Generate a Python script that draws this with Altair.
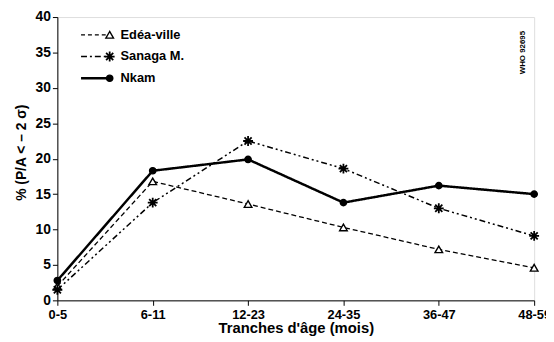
import altair as alt
import pandas as pd

ages = ["0-5", "6-11", "12-23", "24-35", "36-47", "48-59"]
edea = [2.0, 16.8, 13.6, 10.3, 7.2, 4.6]
sanaga = [1.5, 13.8, 22.5, 18.6, 13.0, 9.1]
nkam = [2.8, 18.3, 19.9, 13.8, 16.2, 15.0]
series = ["Edéa-ville", "Sanaga M.", "Nkam"]

rows = []
for name, vals in zip(series, [edea, sanaga, nkam]):
    for a, v in zip(ages, vals):
        rows.append({"age": a, "pct": v, "serie": name})
df = pd.DataFrame(rows)

FONT = "Liberation Sans"
ASTER = "M0,-1L0,1M-1,0L1,0M-0.72,-0.72L0.72,0.72M-0.72,0.72L0.72,-0.72"

x = alt.X("age:N", sort=ages, scale=alt.Scale(type="point", padding=0),
          axis=alt.Axis(title="Tranches d'âge (mois)", labelAngle=0, labelFontSize=13,
                        labelFontWeight="bold", titleFontSize=15, titleFontWeight="bold",
                        tickSize=5, tickColor="black", domainColor="black", labelColor="black",
                        titleColor="black", labelPadding=3, titlePadding=0, labelFont=FONT, titleFont=FONT,
                        labelOverlap=False, labelFlush=False))
y = alt.Y("pct:Q", scale=alt.Scale(domain=[0, 40], nice=False),
          axis=alt.Axis(title="% (P/A < – 2 σ)", values=[0, 5, 10, 15, 20, 25, 30, 35, 40],
                        grid=False, labelFontSize=14, labelFontWeight="bold",
                        titleFontSize=14, titleFontWeight="bold", tickSize=5,
                        tickColor="black", domainColor="black", labelColor="black",
                        titleColor="black", titlePadding=7, titleY=137, labelFont=FONT, titleFont=FONT))

dashes_line = [[5, 3], [6, 3, 2, 3, 2, 3], [1, 0]]
widths = [1.3, 1.5, 2.5]
shapes = ["triangle-up", ASTER, "circle"]
fills = ["white", "white", "black"]
sizes = [60, 100, 40]
pstroke = [1.4, 1.8, 1.5]

layers = []
for i, name in enumerate(series):
    base = alt.Chart(df).transform_filter(alt.datum.serie == name)
    layers.append(base.mark_line(color="black", strokeDash=dashes_line[i], strokeWidth=widths[i]).encode(x=x, y=y))
for i, name in enumerate(series):
    base = alt.Chart(df).transform_filter(alt.datum.serie == name)
    layers.append(base.mark_point(shape=shapes[i], fill=fills[i], filled=(i != 1), stroke="black",
                                  strokeWidth=pstroke[i], size=sizes[i], opacity=1).encode(x=x, y=y))

# manual legend
leg_y = [18, 40, 62]
dashes = [[4, 3], [6, 3, 2, 3], [1, 0]]
for i, name in enumerate(series):
    d = pd.DataFrame({"serie": [name]})
    layers.append(alt.Chart(d).mark_rule(color="black", strokeDash=dashes[i], strokeWidth=widths[i]).encode(
        x=alt.value(24), x2=alt.value(50), y=alt.value(leg_y[i])))
    layers.append(alt.Chart(d).mark_point(shape=shapes[i], fill=fills[i], filled=(i != 1), stroke="black",
                                          strokeWidth=pstroke[i], size=sizes[i], opacity=1).encode(
        x=alt.value(53), y=alt.value(leg_y[i])))
    layers.append(alt.Chart(d).mark_text(align="left", baseline="middle", fontSize=13, fontWeight="bold",
                                         font=FONT, color="black").encode(
        x=alt.value(64), y=alt.value(leg_y[i]), text="serie:N"))

who = alt.Chart(pd.DataFrame({"t": ["WHO 92695"]})).mark_text(
    angle=270, fontSize=8, fontWeight="bold", font=FONT, color="black", align="center", baseline="middle").encode(
    x=alt.value(472), y=alt.value(36), text="t:N")
layers.append(who)

chart = alt.layer(*layers).properties(
    width=483, height=287, padding={"left": 50, "top": 7, "right": 12, "bottom": 39},
    autosize=alt.AutoSizeParams(type="none"),
).configure_view(stroke="black", strokeWidth=1).configure(background="white")

chart.save("out.html", embed_options={"renderer": "svg", "actions": False})
